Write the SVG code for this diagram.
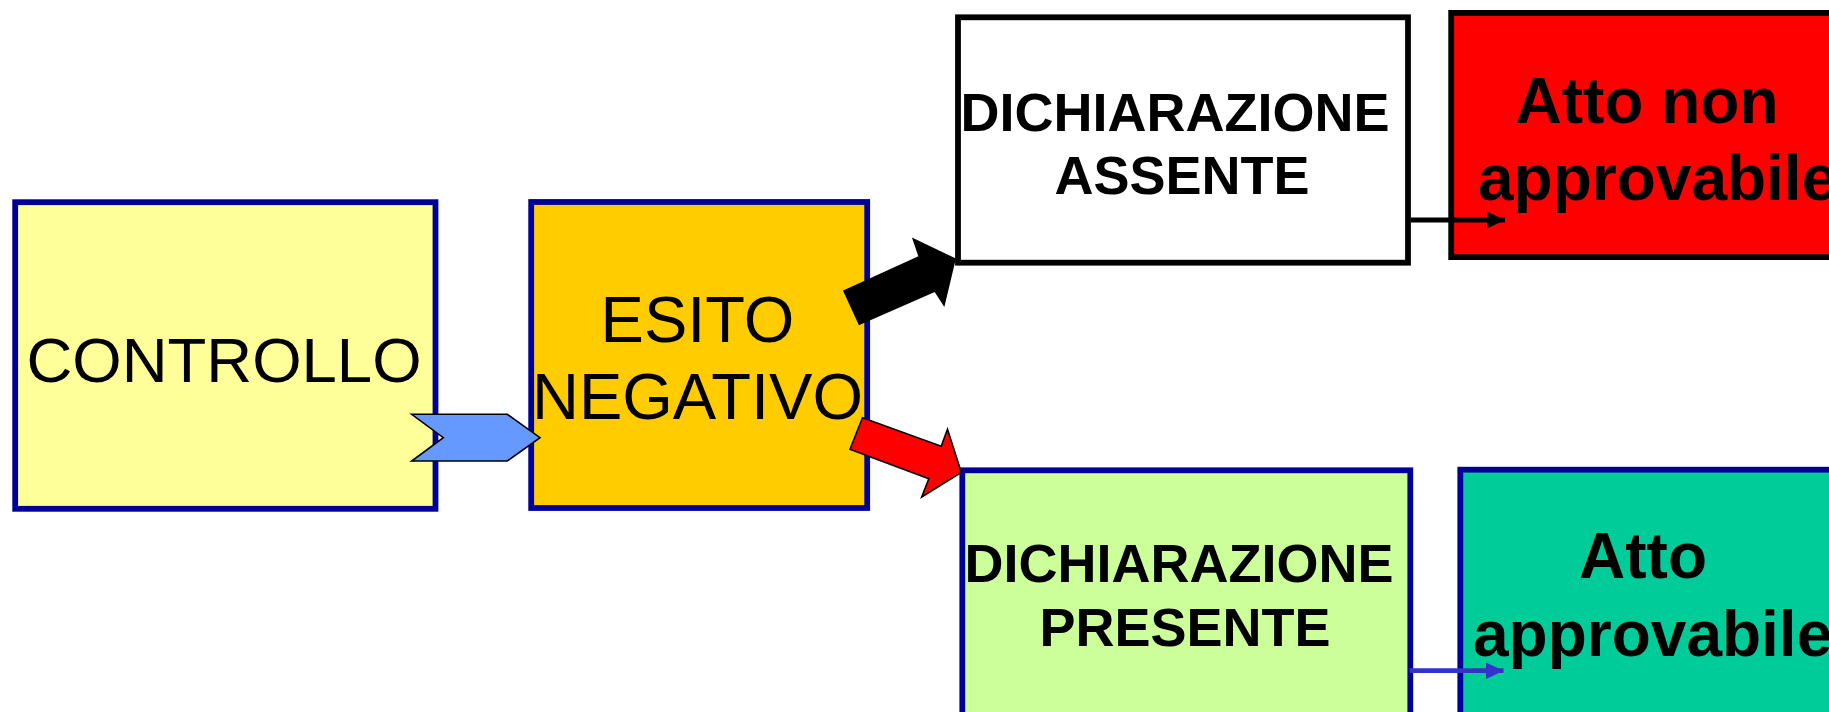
<svg xmlns="http://www.w3.org/2000/svg" width="1829" height="712" viewBox="0 0 1829 712">
<style>
.box{stroke-width:5.8}
.blue{stroke:#000099}
.blk{stroke:#000000}
.reg{font-family:"Liberation Sans",Arial,sans-serif;font-size:65px;fill:#000}
.bold{font-family:"Liberation Sans",Arial,sans-serif;font-weight:bold;fill:#000}
.shape{stroke:#000;stroke-width:1.6;stroke-linejoin:miter}
</style>
<defs>
<marker id="hk" markerUnits="userSpaceOnUse" markerWidth="20" markerHeight="20" refX="18" refY="9" orient="auto" viewBox="0 0 20 20">
<path d="M0,0.5 L18,9 L0,17.5 Z" fill="#000"/>
</marker>
<marker id="hb" markerUnits="userSpaceOnUse" markerWidth="20" markerHeight="20" refX="18" refY="9" orient="auto" viewBox="0 0 20 20">
<path d="M0,0.5 L18,9 L0,17.5 Z" fill="#3333CC"/>
</marker>
</defs>
<rect width="1829" height="712" fill="#ffffff"/>
<g id="controllo">
<rect class="box blue" x="15.2" y="202.2" width="420.3" height="306.6" fill="#FFFF99"/>
<text class="reg" x="224" y="381.7" text-anchor="middle" style="font-size:63.5px">CONTROLLO</text>
</g>
<g id="esito">
<rect class="box blue" x="531.2" y="202" width="336" height="306" fill="#FFCC00"/>
<text class="reg" x="697.5" y="341.5" text-anchor="middle">ESITO</text>
<text class="reg" x="697.5" y="419" text-anchor="middle">NEGATIVO</text>
</g>
<g id="dich-assente">
<rect class="box blk" x="958" y="17.3" width="450" height="245.4" fill="#FFFFFF"/>
<text class="bold" font-size="54" x="1175" y="130.7" text-anchor="middle">DICHIARAZIONE</text>
<text class="bold" font-size="54" x="1182" y="194.3" text-anchor="middle">ASSENTE</text>
</g>
<g id="atto-non">
<rect class="box blk" x="1451.2" y="12.9" width="420" height="244.2" fill="#FF0000"/>
<text class="bold" font-size="64" x="1515.5" y="122.7">Atto non</text>
<text class="bold" font-size="64" x="1478" y="200">approvabile</text>
</g>
<g id="dich-presente">
<rect class="box blue" x="962.3" y="470.3" width="448" height="300" fill="#CCFF99"/>
<text class="bold" font-size="54" x="1179" y="581.7" text-anchor="middle">DICHIARAZIONE</text>
<text class="bold" font-size="54" x="1185" y="645.7" text-anchor="middle">PRESENTE</text>
</g>
<g id="atto-approvabile">
<rect class="box blue" x="1460.3" y="469.7" width="420" height="300" fill="#00CC99"/>
<text class="bold" font-size="64" x="1643" y="578.3" text-anchor="middle">Atto</text>
<text class="bold" font-size="64" x="1473" y="656">approvabile</text>
</g>
<g id="connectors">
<path class="shape" d="M411.7,414.3 L507.3,414.3 L540,437.7 L507.3,461 L411.7,461 L443.3,437.7 Z" fill="#6699FF"/>
<path class="shape" d="M844,291 L919.3,256.7 L913.3,239 L955,259 L944,305 L935,291 L859.3,324.3 Z" fill="#000000"/>
<path class="shape" d="M862.5,417.8 L941.2,446.3 L947.5,429.3 L961.3,472.5 L921.7,497 L928.8,478.8 L850,449.3 Z" fill="#FF0000"/>
<line x1="1411" y1="220" x2="1505" y2="220" stroke="#000" stroke-width="5" marker-end="url(#hk)"/>
<line x1="1409.5" y1="670.7" x2="1503.5" y2="670.7" stroke="#3333CC" stroke-width="4.7" marker-end="url(#hb)"/>
</g>
</svg>
